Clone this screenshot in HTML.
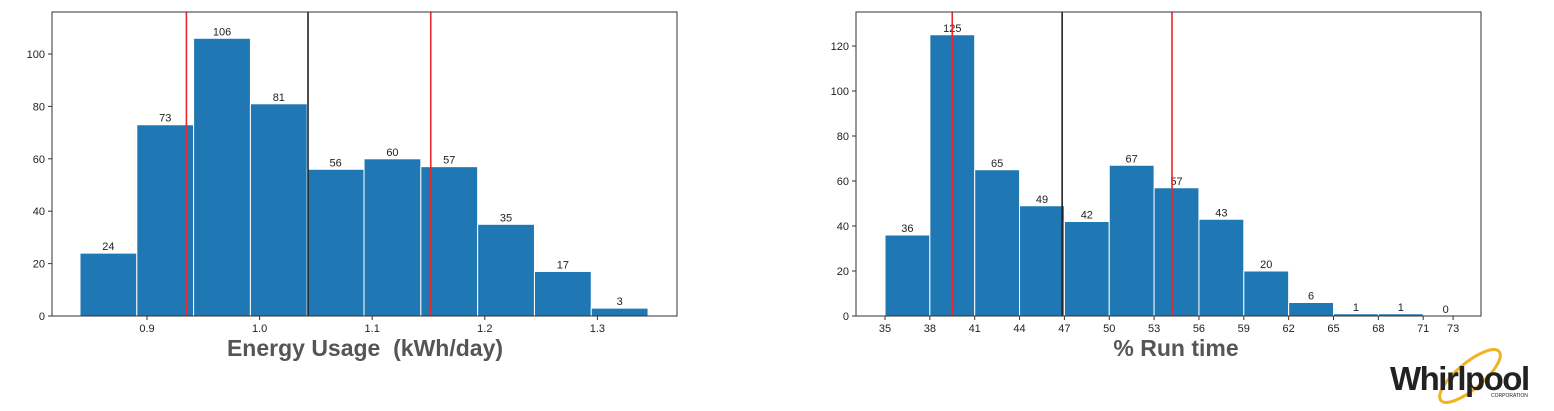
<!DOCTYPE html>
<html><head><meta charset="utf-8"><style>
html,body{margin:0;padding:0;background:#fff;width:1554px;height:411px;overflow:hidden}
svg{font-family:"Liberation Sans",sans-serif}
</style></head><body>
<svg id="s" width="1554" height="411">
<text x="365" y="356" font-size="23" font-weight="bold" fill="#555" text-anchor="middle" style="white-space:pre" xml:space="preserve">Energy Usage  (kWh/day)</text>
<text x="1176" y="356" font-size="23" font-weight="bold" fill="#555" text-anchor="middle">% Run time</text>
<g>
<ellipse cx="1470" cy="376" rx="38" ry="13" transform="rotate(-40 1470 376)" fill="none" stroke="#f0b323" stroke-width="3"/>
<text x="1390" y="390" font-size="33" font-weight="bold" fill="#222" letter-spacing="-1.5">Whirlpool</text>
<text x="1491" y="397" font-size="5" fill="#222">CORPORATION</text>
</g>
</svg>
<script>
// Left chart data
const leftCounts=[24,73,106,81,56,60,57,35,17,3];
const leftBinStart=0.8405, leftBinWidth=0.05045;
const leftTicksX=[0.9,1.0,1.1,1.2,1.3];
const leftTicksY=[0,20,40,60,80,100];
const leftRedLines=[0.935,1.152];
const leftBlackLine=[1.043];
// Right chart data
const rightCounts=[36,125,65,49,42,67,57,43,20,6,1,1,0];
const rightBinStart=35, rightBinWidth=3;
const rightTicksX=[35,38,41,44,47,50,53,56,59,62,65,68,71,73];
const rightTicksY=[0,20,40,60,80,100,120];
const rightRedLines=[39.5,54.2];
const rightBlackLine=[46.85];

const NS="http://www.w3.org/2000/svg",svg=document.getElementById('s');
function mk(t,a,p){const e=document.createElementNS(NS,t);for(const k in a)e.setAttribute(k,a[k]);(p||svg).appendChild(e);return e;}
function draw(o){
  const g=mk('g',{});
  
  
  const x=v=>o.x0+(v-o.v0)*o.kx, y=v=>316-v*o.ky;
  o.counts.forEach((c,i)=>{
    const xa=x(o.bs+i*o.bw), xb=x(o.bs+(i+1)*o.bw);
    const r=mk('rect',{x:xa,y:y(c),width:xb-xa,height:316-y(c),fill:'#1f77b4',stroke:'#fff','stroke-width':1},g);
    
    
    const t=mk('text',{x:(xa+xb)/2,y:y(c)-3,'font-size':11,'text-anchor':'middle',fill:'#222'},g);
    t.textContent=c;
    
    
  });
  o.red.forEach(v=>{const l=mk('line',{x1:x(v),x2:x(v),y1:12,y2:316,stroke:'#e8282b','stroke-width':1.6},g);
    
    });
  o.black.forEach(v=>{const l=mk('line',{x1:x(v),x2:x(v),y1:12,y2:316,stroke:'#222','stroke-width':1.6},g);
    
    });
  const f=mk('rect',{x:o.L,y:12,width:o.R-o.L,height:304,fill:'none',stroke:'#333','stroke-width':1},g);
  
  
  o.tx.forEach(v=>{mk('line',{x1:x(v),x2:x(v),y1:316,y2:320,stroke:'#333'},g);
    const t=mk('text',{x:x(v),y:332,'font-size':11,'text-anchor':'middle',fill:'#222'},g);t.textContent=o.fmt(v);
    
    });
  o.ty.forEach(v=>{mk('line',{x1:o.L-4,x2:o.L,y1:y(v),y2:y(v),stroke:'#333'},g);
    const t=mk('text',{x:o.L-7,y:y(v)+4,'font-size':11,'text-anchor':'end',fill:'#222'},g);t.textContent=v;
    
    });
}
draw({name:'energy-histogram',counts:leftCounts,bs:leftBinStart,bw:leftBinWidth,x0:147,v0:0.9,kx:1126,ky:2.62,L:52,R:677,
  tx:leftTicksX,ty:leftTicksY,red:leftRedLines,black:leftBlackLine,fmt:v=>v.toFixed(1)});
draw({name:'runtime-histogram',counts:rightCounts,bs:rightBinStart,bw:rightBinWidth,x0:885,v0:35,kx:14.95,ky:2.25,L:856,R:1481,
  tx:rightTicksX,ty:rightTicksY,red:rightRedLines,black:rightBlackLine,fmt:v=>v});
</script>
</body></html>
